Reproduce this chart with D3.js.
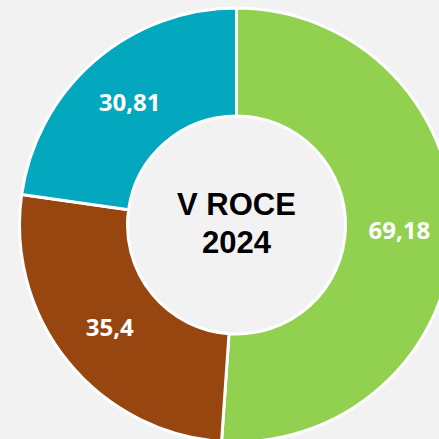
<!DOCTYPE html>
<html><head><meta charset="utf-8">
<script src="https://cdn.jsdelivr.net/npm/d3@7"></script>
<style>html,body{margin:0;padding:0;background:#f2f2f2;}svg{display:block;}</style>
</head><body>
<svg id="c" width="439" height="439"></svg>
<script>
const categories = ["A", "B", "C"];
const values = [69.18, 35.4, 30.81];
const labels = ["69,18", "35,4", "30,81"];
const colors = ["#92D050", "#984610", "#03A8BE"];
const centerLines = ["V ROCE", "2024"];

const svg = d3.select("#c");
const cx = 236.5, cy = 225, rOuter = 217, rInner = 109;
const g = svg.append("g").attr("transform", `translate(${cx},${cy})`);
const pie = d3.pie().sort(null).value(d => d.v);
const data = pie(values.map((v, i) => ({v, i})));
const arc = d3.arc().innerRadius(rInner).outerRadius(rOuter);
g.selectAll("path").data(data).join("path")
  .attr("d", arc)
  .attr("fill", d => colors[d.data.i])
  .attr("stroke", "#fff").attr("stroke-width", 3).attr("stroke-linejoin", "round");
const labelArc = d3.arc().innerRadius((rInner + rOuter) / 2).outerRadius((rInner + rOuter) / 2);
g.selectAll("text.lbl").data(data).join("text")
  .attr("class", "lbl")
  .attr("transform", d => `translate(${labelArc.centroid(d)})`)
  .attr("text-anchor", "middle").attr("dy", "0.36em")
  .attr("fill", "#fff").attr("font-family", "'Open Sans', sans-serif")
  .attr("font-weight", "bold").attr("font-size", 24)
  .text(d => labels[d.data.i]);
g.selectAll("text.ctr").data(centerLines).join("text")
  .attr("class", "ctr")
  .attr("x", 0).attr("y", (d, i) => -10 + i * 38)
  .attr("text-anchor", "middle")
  .attr("fill", "#000").attr("font-family", "'Liberation Sans', Arial, sans-serif")
  .attr("font-weight", "bold").attr("font-size", 31)
  .text(d => d);
</script>
</body></html>
